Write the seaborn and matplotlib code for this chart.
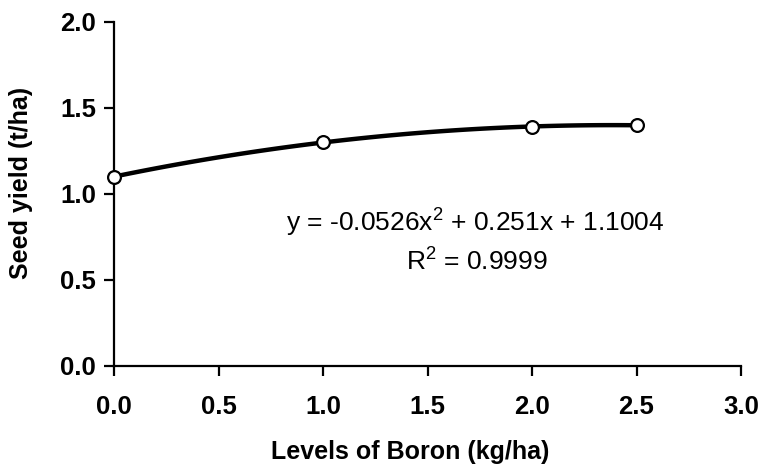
import matplotlib
matplotlib.use("Agg")
import matplotlib.pyplot as plt
import seaborn as sns
import pandas as pd

boron_levels = [0.0, 1.0, 2.0, 2.5]
seed_yield = [1.10, 1.30, 1.39, 1.40]
x_ticks = [0.0, 0.5, 1.0, 1.5, 2.0, 2.5, 3.0]
y_ticks = [0.0, 0.5, 1.0, 1.5, 2.0]
equation_text = "y = -0.0526x$^{2}$ + 0.251x + 1.1004"
r2_text = "R$^{2}$ = 0.9999"

sns.set_style("white")
plt.rcParams["font.family"] = ["Liberation Sans", "DejaVu Sans"]
plt.rcParams["mathtext.default"] = "regular"
plt.rcParams["text.color"] = "black"
plt.rcParams["axes.labelcolor"] = "black"
plt.rcParams["xtick.color"] = "black"
plt.rcParams["ytick.color"] = "black"

df = pd.DataFrame({"boron": boron_levels, "yield": seed_yield})

fig = plt.figure(figsize=(7.6, 4.65), dpi=100)
ax = fig.add_axes([0.15, 0.213, 0.825, 0.74])

sns.regplot(data=df, x="boron", y="yield", order=2, ci=None, scatter=False,
            line_kws=dict(color="black", lw=3.2, zorder=2), ax=ax)
sns.scatterplot(data=df, x="boron", y="yield", marker="o", s=85,
                facecolor="white", edgecolor="black", linewidth=1.6,
                zorder=3, clip_on=False, ax=ax)

ax.set_xlim(0, 3)
ax.set_ylim(0, 2)
ax.set_xticks(x_ticks)
ax.set_yticks(y_ticks)
ax.set_xticklabels([f"{v:.1f}" for v in x_ticks], fontsize=18.5, fontweight="bold")
ax.set_yticklabels([f"{v:.1f}" for v in y_ticks], fontsize=18.5, fontweight="bold")
ax.tick_params(axis="both", direction="out", length=7, width=1.6, color="black",
               bottom=True, left=True, pad=6)
ax.tick_params(axis="x", pad=14)

for side in ["top", "right"]:
    ax.spines[side].set_visible(False)
for side in ["left", "bottom"]:
    ax.spines[side].set_linewidth(1.6)
    ax.spines[side].set_color("black")

ax.set_xlabel("Levels of Boron (kg/ha)", fontsize=18, fontweight="bold")
ax.set_ylabel("Seed yield (t/ha)", fontsize=18, fontweight="bold")
ax.xaxis.set_label_coords(0.472, -0.215)
ax.yaxis.set_label_coords(-0.129, 0.532)

ax.text(1.727, 0.831, equation_text, fontsize=19, ha="center", va="center")
ax.text(1.737, 0.605, r2_text, fontsize=19, ha="center", va="center")

fig.savefig("out.png", dpi=100)
